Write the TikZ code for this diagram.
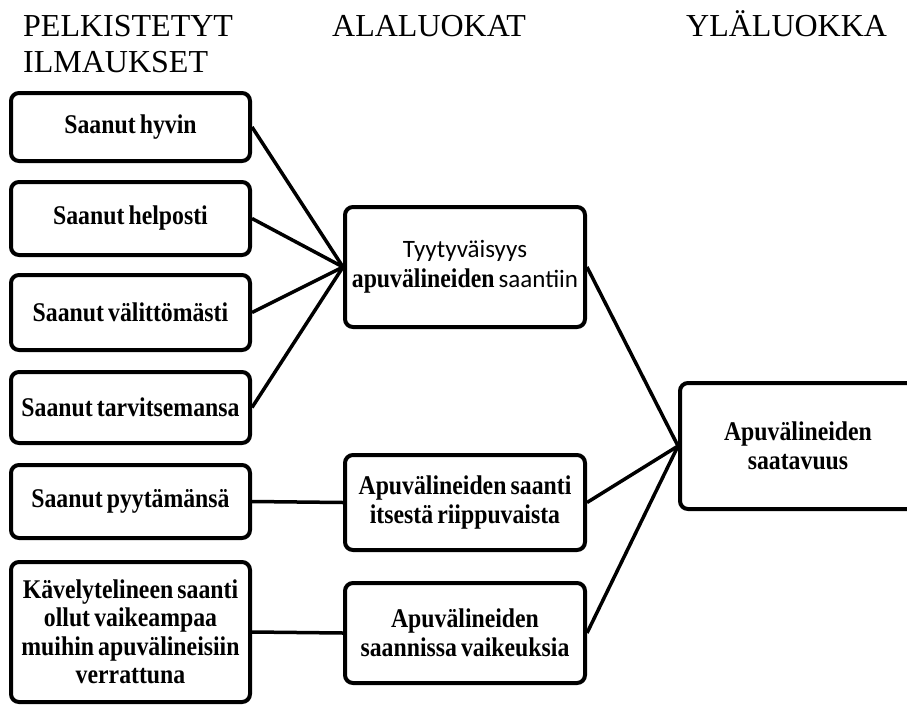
\documentclass[tikz,border=0pt]{standalone}
\usepackage{fontspec}
\setmainfont{Liberation Serif}
\newfontfamily\headfont{Liberation Serif}
\newfontfamily\boxfont[FakeStretch=0.88,WordSpace=0.7]{Liberation Serif}
\newfontfamily\calfont{Carlito}
\begin{document}
\begin{tikzpicture}[x=1pt,y=-1pt,
  box/.style={draw=black,line width=4pt,rounded corners=8pt,fill=white,
    inner sep=0pt,align=center,text=black,
    font=\boxfont\bfseries\fontsize{27}{28.5}\selectfont},
  link/.style={draw=black,line width=3.5pt},
  head/.style={anchor=base west,inner sep=0pt,align=left,
    font=\headfont\mdseries\fontsize{32}{35.5}\selectfont}]
\useasboundingbox (0,0) rectangle (907,704);

% column headings
\node[head] (h1) at (23,72) {PELKISTETYT\\ILMAUKSET};
\node[head] (h2) at (332,36.5) {ALALUOKAT};
\node[head] (h3) at (686,36.5) {YLÄLUOKKA};

% reduced expressions
\node[box,minimum width=239pt,minimum height=68pt]  (l1) at (130.5,127)   {Saanut hyvin};
\node[box,minimum width=239pt,minimum height=73pt]  (l2) at (130.5,218.5) {Saanut helposti};
\node[box,minimum width=239pt,minimum height=75pt]  (l3) at (130.5,312.5) {Saanut välittömästi};
\node[box,minimum width=239pt,minimum height=71pt]  (l4) at (130.5,407.5) {Saanut tarvitsemansa};
\node[box,minimum width=239pt,minimum height=73pt]  (l5) at (130.5,501.5) {Saanut pyytämänsä};
\node[box,minimum width=239pt,minimum height=140pt] (l6) at (130.5,632)
  {Kävelytelineen saanti\\ollut vaikeampaa\\muihin apuvälineisiin\\verrattuna};

% subcategories
\node[box,minimum width=240pt,minimum height=120pt] (a) at (465,267)
  {{\calfont\mdseries\fontsize{25}{30}\selectfont Tyytyväisyys}\\[1pt]
   apuvälineiden {\calfont\mdseries\fontsize{25}{30}\selectfont saantiin}};
\node[box,minimum width=240pt,minimum height=95pt]  (b) at (465,502.5)
  {Apuvälineiden saanti\\itsestä riippuvaista};
\node[box,minimum width=240pt,minimum height=100pt] (c) at (465,633)
  {Apuvälineiden\\saannissa vaikeuksia};

% main category
\node[box,minimum width=236pt,minimum height=126pt] (r) at (798,446)
  {Apuvälineiden\\saatavuus};

% connectors
\foreach \n in {l1,l2,l3,l4} \draw[link] (\n.east) -- (a.west);
\draw[link] (l5.east) -- (b.west);
\draw[link] (l6.east) -- (c.west);
\foreach \n in {a,b,c} \draw[link] (\n.east) -- (r.west);
\end{tikzpicture}
\end{document}
